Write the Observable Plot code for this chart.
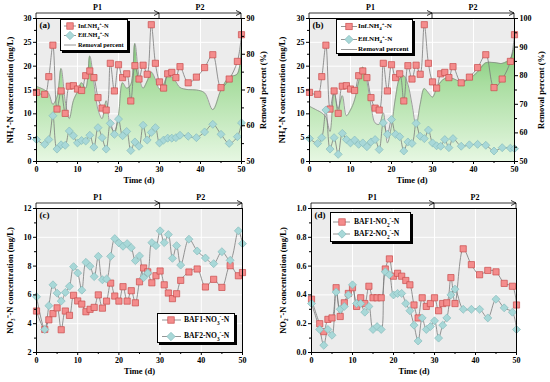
<!DOCTYPE html>
<html><head><meta charset="utf-8">
<script src="https://cdn.jsdelivr.net/npm/d3@7"></script>
<script src="https://cdn.jsdelivr.net/npm/@observablehq/plot@0.6"></script>
<style>
body{margin:0;background:#fff;}
#root{position:relative;width:550px;height:382px;overflow:hidden;font-family:"Liberation Serif","Times New Roman",serif;font-weight:bold;}
.legend{position:absolute;background:#fff;border:1px solid #000;box-shadow:2px 2px 0 #000;box-sizing:border-box;}
.legend span{position:absolute;white-space:nowrap;line-height:1;}
.legend sub,.legend sup{font-size:0.7em;line-height:0;}
.legend svg{position:absolute;left:0;top:0;overflow:visible;}
</style>
</head><body><div id="root"></div>
<script>
// ---- data ----
const days = [0,2,3,4,5,6,7,8,9,10,11,12,13,14,15,16,17,18,19,20,21,22,23,24,25,26,27,28,29,30,31,32,33,34,35,37,39,41,43,45,47,49,50];
const infNH4 = [14.5,14.1,17.8,24.4,11.0,14.8,10.1,15.8,15.9,15.2,14.9,18.0,19.0,17.6,13.4,11.2,10.8,20.6,14.8,20.3,17.6,18.4,12.7,20.1,17.3,20.2,18.3,28.7,20.6,16.7,15.4,18.4,18.7,17.6,19.9,16.5,17.7,19.7,22.4,15.5,17.3,21.0,26.6];
const effNH4a = [4.6,3.6,4.6,9.6,2.6,3.5,3.4,6.4,5.4,3.9,4.4,4.3,5.5,3.0,7.1,5.0,2.6,8.0,5.7,8.9,5.4,6.3,2.3,4.1,3.2,7.6,4.5,6.1,7.1,3.9,4.5,4.9,4.9,5.0,5.5,5.3,5.0,6.2,7.8,5.7,3.8,5.2,8.1];
const removalA = [71,70,69,66,68,76,67,62,67,69.5,72,70.5,79.5,72,64.5,62,67,60,58.5,63,72,70.5,71.5,83,74,70.5,72.5,75,73,70.3,71.5,74,73.6,72.3,70.7,70.1,70,69.2,64.5,70,73.6,74.5,85];
const effNH4b = [4.8,3.8,5.0,10.8,2.6,5.0,1.5,5.9,4.6,3.9,4.5,3.6,3.9,3.1,4.1,4.6,2.5,8.1,5.7,8.8,5.7,5.2,2.2,4.1,3.8,8.0,5.3,4.8,6.6,3.9,3.3,3.2,4.6,2.9,4.8,3.2,3.5,3.6,3.4,2.2,2.9,2.8,2.7];
const removalB = [69.3,67.8,67,65.5,60.5,74,68.5,73,66,68,71.5,78,83,78,69.5,63.5,63,67,56.5,62.5,72.5,79,80,77,70,62.5,70,75.5,74,72.5,75.5,77.8,79,79.5,79,78,79,81.3,84.5,84.6,84.3,86,91];
const baf1NO3 = [4.88,3.6,4.27,4.7,5.1,3.58,4.88,4.58,5.97,5.58,5.36,4.83,5.0,5.13,6.0,5.08,5.57,6.82,5.92,5.57,6.57,5.57,6.29,5.45,6.91,7.87,7.6,6.84,7.33,7.66,6.7,6.13,5.74,6.08,7.01,7.59,7.8,6.55,7.08,6.52,8.03,7.33,7.55];
const baf2NO3 = [5.87,3.6,5.25,6.7,6.12,5.57,6.17,6.6,7.96,7.52,6.33,8.26,7.99,7.27,8.68,7.05,7.1,8.68,9.91,9.61,9.38,9.56,9.28,8.38,8.71,7.2,7.52,9.63,9.42,10.45,9.63,10.19,8.54,9.42,8.07,9.87,9.05,8.56,8.17,9.0,8.4,10.45,9.56];
const baf1NO2 = [0.37,0.20,0.145,0.23,0.24,0.45,0.25,0.345,0.41,0.45,0.32,0.38,0.34,0.46,0.38,0.38,0.38,0.58,0.65,0.53,0.55,0.53,0.50,0.47,0.33,0.24,0.38,0.32,0.34,0.38,0.29,0.34,0.345,0.52,0.34,0.72,0.61,0.54,0.57,0.56,0.48,0.46,0.33];
const baf2NO2 = [0.34,0.16,0.05,0.16,0.12,0.42,0.30,0.32,0.40,0.47,0.34,0.34,0.28,0.32,0.16,0.18,0.16,0.56,0.54,0.40,0.41,0.41,0.34,0.29,0.19,0.08,0.24,0.16,0.18,0.22,0.10,0.19,0.24,0.40,0.44,0.30,0.30,0.30,0.24,0.37,0.31,0.28,0.16];
const phases = [{name:"P1", start:0, end:30}, {name:"P2", start:30, end:50}];
const xTicks = [0,10,20,30,40,50];
const xMinor = [5,15,25,35,45];

// ---- styling ----
const SQ = {symbol:"square", r:3.5, fill:"#f48c8c", stroke:"#c94c4c", strokeWidth:0.7};
const DI = {symbol:"diamond2", r:3.6, fill:"#a8d8d8", stroke:"#86bcbc", strokeWidth:0.7};
const LINE = {stroke:"#7a7a7a", strokeWidth:0.8, curve:"catmull-rom"};
const root = document.getElementById("root");
const tbl = arr => days.map((d,i) => ({day:d, v:arr[i]}));
const MT = 18;

function makePanel(c) {
  const marks = [
    Plot.frame({fill:"#ececec", stroke:null}),
    Plot.gridX(xTicks.slice(1,-1), {stroke:"#fff", strokeOpacity:1, strokeWidth:1}),
    Plot.gridY(c.yTicks.slice(1,-1), {stroke:"#fff", strokeOpacity:1, strokeWidth:1}),
  ];
  if (c.area) {
    const at = days.map((d,i) => ({day:d, v:c.area.map(c.area.values[i])}));
    marks.push(Plot.areaY(at, {x:"day", y:"v", fill:`url(#${c.id}g)`, curve:"catmull-rom"}));
    marks.push(Plot.line(at, {x:"day", y:"v", stroke:"#8a8a8a", strokeWidth:0.8, curve:"catmull-rom"}));
  }
  for (const s of c.series) marks.push(Plot.line(tbl(s.values), {x:"day", y:"v", ...LINE}));
  for (const s of c.series) marks.push(Plot.dot(tbl(s.values), {x:"day", y:"v", ...(s.kind === "sq" ? SQ : DI)}));
  marks.push(Plot.frame({stroke:"#000", strokeWidth:1}));
  marks.push(Plot.axisX(xTicks, {tickSize:3, tickPadding:2, label:null, fontSize:8}));
  marks.push(Plot.axisX(xMinor, {tickSize:2, tickFormat:() => "", label:null}));
  marks.push(Plot.axisY(c.yTicks, {tickSize:3, tickPadding:2, label:null, fontSize:8, tickFormat:c.yFormat}));
  marks.push(Plot.axisY(c.yMinor, {tickSize:2, tickFormat:() => "", label:null}));
  if (c.right) {
    marks.push(Plot.axisY(c.right.ticks.map(c.area.map), {anchor:"right", tickSize:3, tickPadding:2, label:null, fontSize:8, tickFormat:c.right.format}));
    marks.push(Plot.axisY(c.right.minor.map(c.area.map), {anchor:"right", tickSize:2, tickFormat:() => "", label:null}));
    marks.push(Plot.text([c.right.label], {frameAnchor:"right", dx:c.right.dx, rotate:-90, textAnchor:"middle", fontSize:8.5, fontWeight:"bold"}));
  }
  marks.push(Plot.text(["Time (d)"], {frameAnchor:"bottom", dy:21, fontSize:8.5, fontWeight:"bold"}));
  marks.push(Plot.text([c.yLabel], {frameAnchor:"left", dx:c.yLabelDx, rotate:-90, textAnchor:"middle", fontSize:8.5, fontWeight:"bold"}));
  marks.push(Plot.text([c.tag], {frameAnchor:"top-left", dx:3, dy:3, fontSize:9, fontWeight:"bold"}));

  const svg = Plot.plot({
    width:275, height:c.height,
    marginLeft:c.ml, marginRight:c.mr, marginTop:MT, marginBottom:c.mb,
    x:{domain:[0,50]},
    y:{domain:c.yDomain},
    style:{fontFamily:"'Liberation Serif','Times New Roman',serif", fontWeight:"bold", fontSize:"8px", background:"transparent", overflow:"visible", color:"#000"},
    marks
  });
  const sel = d3.select(svg);
  if (c.area) {
    const defs = sel.insert("defs", ":first-child");
    const g = defs.append("linearGradient").attr("id", c.id + "g")
      .attr("gradientUnits", "userSpaceOnUse").attr("x1", 0).attr("x2", 0)
      .attr("y1", MT).attr("y2", c.height - c.mb);
    g.append("stop").attr("offset", "0%").attr("stop-color", "#62ba5a");
    g.append("stop").attr("offset", "45%").attr("stop-color", "#a8dd9f");
    g.append("stop").attr("offset", "100%").attr("stop-color", "#e6f7e2");
  }
  // phase bar above the frame, positioned with Plot's x scale
  const xs = svg.scale("x");
  const yb = MT - 5;
  const pb = sel.append("g").attr("stroke", "#000").attr("stroke-width", 0.8).attr("fill", "none");
  for (const p of phases) {
    const x1 = xs.apply(p.start), x2 = xs.apply(p.end);
    pb.append("line").attr("x1", x1).attr("x2", x2).attr("y1", yb).attr("y2", yb);
    pb.append("path").attr("d", `M${x2-5},${yb-2.5}L${x2},${yb}L${x2-5},${yb+2.5}`);
    sel.append("text").attr("x", xs.apply((p.start + p.end) / 2)).attr("y", yb - 3)
      .attr("text-anchor", "middle").attr("font-size", 8).attr("font-weight", "bold").text(p.name);
  }
  for (const d of [0, 30, 50]) {
    pb.append("line").attr("x1", xs.apply(d)).attr("x2", xs.apply(d)).attr("y1", yb).attr("y2", MT);
  }
  Object.assign(svg.style, {position:"absolute", left:c.left + "px", top:c.top + "px"});
  root.appendChild(svg);
}

function legend(c) {
  const div = document.createElement("div");
  div.className = "legend";
  Object.assign(div.style, {left:c.left+"px", top:c.top+"px", width:c.w+"px", height:c.h+"px", fontSize:c.fs+"px"});
  const s = d3.create("svg").attr("width", c.w).attr("height", c.h);
  for (const r of c.rows) {
    s.append("line").attr("x1", c.lx1).attr("x2", c.lx2).attr("y1", r.y).attr("y2", r.y)
      .attr("stroke", "#7a7a7a").attr("stroke-width", 0.8);
    if (r.kind === "sq") {
      s.append("rect").attr("x", c.mx - 3.2).attr("y", r.y - 3.2).attr("width", 6.4).attr("height", 6.4)
        .attr("fill", SQ.fill).attr("stroke", SQ.stroke).attr("stroke-width", 0.7);
    } else if (r.kind === "di") {
      s.append("path").attr("d", `M${c.mx},${r.y-4.2}L${c.mx+4.2},${r.y}L${c.mx},${r.y+4.2}L${c.mx-4.2},${r.y}Z`)
        .attr("fill", DI.fill).attr("stroke", DI.stroke).attr("stroke-width", 0.7);
    }
    const sp = document.createElement("span");
    sp.innerHTML = r.html;
    sp.style.left = c.tx + "px";
    sp.style.top = (r.y - c.fs*0.55) + "px";
    div.appendChild(sp);
  }
  div.insertBefore(s.node(), div.firstChild);
  root.appendChild(div);
}

const nh4Label = "NH\u2084\u207A-N concentration (mg/L)";
makePanel({id:"a", left:0, top:0, height:190, ml:36, mr:34, mb:29,
  yDomain:[0,30], yTicks:[0,5,10,15,20,25,30], yMinor:[2.5,7.5,12.5,17.5,22.5,27.5],
  yLabel:nh4Label, yLabelDx:-26, tag:"(a)",
  series:[{values:infNH4, kind:"sq"}, {values:effNH4a, kind:"di"}],
  area:{values:removalA, map:p => (p - 50) * 30 / 40},
  right:{ticks:[50,60,70,80,90], minor:[55,65,75,85], format:d => Math.round(50 + d * 40 / 30), label:"Removal percent (%)", dx:22}
});
makePanel({id:"b", left:275, top:0, height:190, ml:34, mr:36, mb:29,
  yDomain:[0,30], yTicks:[0,5,10,15,20,25,30], yMinor:[2.5,7.5,12.5,17.5,22.5,27.5],
  yLabel:nh4Label, yLabelDx:-27, tag:"(b)",
  series:[{values:infNH4, kind:"sq"}, {values:effNH4b, kind:"di"}],
  area:{values:removalB, map:p => (p - 50) * 30 / 50},
  right:{ticks:[50,60,70,80,90,100], minor:[55,65,75,85,95], format:d => Math.round(50 + d * 50 / 30), label:"Removal percent (%)", dx:27}
});
makePanel({id:"c", left:0, top:190, height:192, ml:36, mr:33, mb:30,
  yDomain:[2,12], yTicks:[2,4,6,8,10,12], yMinor:[3,5,7,9,11],
  yLabel:"NO\u2083\u207B-N concentration (mg/L)", yLabelDx:-26, tag:"(c)",
  series:[{values:baf1NO3, kind:"sq"}, {values:baf2NO3, kind:"di"}]
});
makePanel({id:"d", left:275, top:190, height:192, ml:36, mr:34, mb:30,
  yDomain:[0,1], yTicks:[0,0.2,0.4,0.6,0.8,1.0], yMinor:[0.1,0.3,0.5,0.7,0.9], yFormat:d3.format(".1f"),
  yLabel:"NO\u2082\u207B-N concentration (mg/L)", yLabelDx:-28, tag:"(d)",
  series:[{values:baf1NO2, kind:"sq"}, {values:baf2NO2, kind:"di"}]
});

legend({left:60, top:19, w:68, h:32, fs:6.3, mx:9, lx1:3, lx2:15, tx:17, rows:[
  {y:6, kind:"sq", html:"Inf.NH<sub>4</sub><sup>+</sup>-N"},
  {y:15.5, kind:"di", html:"Eff.NH<sub>4</sub><sup>+</sup>-N"},
  {y:25, kind:"line", html:"Removal percent"}]});
legend({left:336, top:19, w:77, h:35, fs:7, mx:12, lx1:4, lx2:20, tx:21, rows:[
  {y:6.5, kind:"sq", html:"Inf.NH<sub>4</sub><sup>+</sup>-N"},
  {y:19.5, kind:"di", html:"Eff.NH<sub>4</sub><sup>+</sup>-N"},
  {y:29.5, kind:"line", html:"Removal percent"}]});
legend({left:157, top:313, w:78, h:30, fs:7.6, mx:13, lx1:4, lx2:23, tx:26, rows:[
  {y:6, kind:"sq", html:"BAF1-NO<sub>3</sub><sup>-</sup>-N"},
  {y:22.5, kind:"di", html:"BAF2-NO<sub>3</sub><sup>-</sup>-N"}]});
legend({left:330, top:212, w:81, h:30, fs:7.6, mx:11, lx1:2, lx2:19, tx:23, rows:[
  {y:9, kind:"sq", html:"BAF1-NO<sub>2</sub><sup>-</sup>-N"},
  {y:21, kind:"di", html:"BAF2-NO<sub>2</sub><sup>-</sup>-N"}]});
</script>
</body></html>
